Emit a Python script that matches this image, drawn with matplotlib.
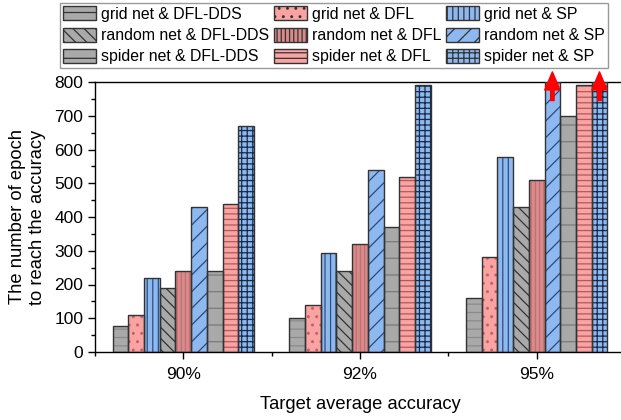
import numpy as np
import matplotlib
matplotlib.use("Agg")
import matplotlib.pyplot as plt
from matplotlib.patches import Patch
from matplotlib.ticker import MultipleLocator

plt.rcParams['font.family'] = ['Liberation Sans', 'DejaVu Sans']
plt.rcParams['hatch.linewidth'] = 0.9

# data
groups = ["90%", "92%", "95%"]
series = ["grid net & DFL-DDS", "grid net & DFL", "grid net & SP",
          "random net & DFL-DDS", "random net & DFL", "random net & SP",
          "spider net & DFL-DDS", "spider net & DFL", "spider net & SP"]
grid_dds = [78, 100, 160]
grid_dfl = [110, 140, 282]
grid_sp = [220, 293, 578]
random_dds = [190, 240, 430]
random_dfl = [240, 320, 510]
random_sp = [430, 540, 800]     # 95% goes beyond the axis
spider_dds = [240, 370, 700]
spider_dfl = [440, 520, 790]
spider_sp = [670, 790, 800]     # 95% goes beyond the axis
values = [grid_dds, grid_dfl, grid_sp, random_dds, random_dfl, random_sp,
          spider_dds, spider_dfl, spider_sp]

gray = "#a9a9a9"
pink = "#f9a3a3"
blue = "#8db8f0"
dpink = "#d98a8a"
fills = [gray, pink, blue, gray, dpink, blue, gray, pink, blue]
hatches = ['--', '..', '|||', '\\\\\\', '||||', '//', '-', '---', '+++']
hcolors = ["#8a8a8a", "#c06060", "#30507a", "#333333", "#c07070", "#2a4a7a",
           "#7a7a7a", "#b05a5a", "#1a2a45"]

fig = plt.figure(figsize=(6.21, 4.2), dpi=100)
ax = fig.add_axes([95 / 621, 68 / 420, 530 / 621, 270 / 420])

x = np.arange(len(groups))
w = 0.8 / 9
for i in range(9):
    pos = x - 0.4 + w * (i + 0.5)
    ax.bar(pos, values[i], w, color=fills[i], hatch=hatches[i],
           edgecolor=hcolors[i], linewidth=0, zorder=2)
    ax.bar(pos, values[i], w, fill=False, edgecolor="#333333",
           linewidth=1.0, zorder=3)

# arrows for bars cut off at the top
for i in [5, 8]:
    xp = x[2] - 0.4 + w * (i + 0.5)
    ax.annotate("", xy=(xp, 830), xytext=(xp, 745),
                arrowprops=dict(facecolor="red", edgecolor="red", width=2.5,
                                headwidth=11, headlength=13),
                annotation_clip=False, zorder=5)

ax.set_xlim(-0.5, 2.5)
ax.set_ylim(0, 800)
ax.set_xticks(x)
ax.set_xticklabels(groups)
ax.xaxis.set_minor_locator(MultipleLocator(1, offset=0.5))
ax.yaxis.set_major_locator(MultipleLocator(100))
ax.yaxis.set_minor_locator(MultipleLocator(50))
ax.tick_params(axis='both', which='major', direction='out', length=5,
               width=1, labelsize=12.5)
ax.tick_params(axis='x', which='major', pad=6)
ax.tick_params(axis='both', which='minor', direction='out', length=3, width=1)
ax.spines['right'].set_visible(False)
for s in ['left', 'bottom', 'top']:
    ax.spines[s].set_linewidth(1.0)

ax.set_xlabel("Target average accuracy", fontsize=13.2, labelpad=10)
ax.set_ylabel("The number of epoch\nto reach the accuracy", fontsize=13.2,
              labelpad=6)

# legend is filled column by column, so reorder to get row-wise entries
order = [0, 3, 6, 1, 4, 7, 2, 5, 8]
handles = [Patch(facecolor=fills[i], hatch=hatches[i], edgecolor="#333333",
                 linewidth=1.0) for i in order]
labels = [series[i] for i in order]
leg = fig.legend(handles, labels, ncol=3, loc='upper left',
                 bbox_to_anchor=(60 / 621, 1 - 3 / 420), fontsize=11.4,
                 frameon=True, fancybox=False, edgecolor="#808080",
                 handlelength=2.1, handleheight=1.0, labelspacing=0.37,
                 columnspacing=0.3, handletextpad=0.3, borderpad=0.2,
                 borderaxespad=0)
leg.get_frame().set_linewidth(1.0)

fig.savefig("out.png", dpi=100)
